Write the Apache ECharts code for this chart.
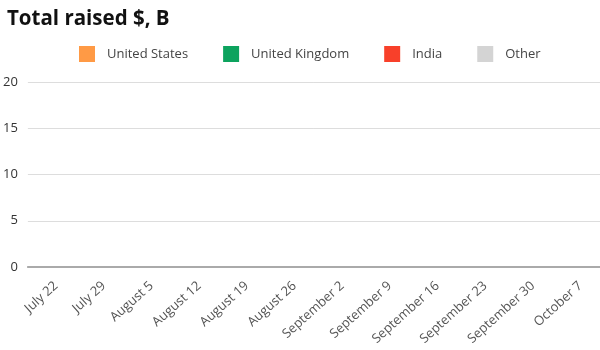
<!DOCTYPE html>
<html>
<head>
<meta charset="utf-8">
<script src="https://cdn.jsdelivr.net/npm/echarts@6/dist/echarts.min.js"></script>
<style>html,body{margin:0;padding:0;background:#fff}#c{width:600px;height:350px}</style>
</head>
<body>
<div id="c"></div>
<script>
const categories = ["July 22","July 29","August 5","August 12","August 19","August 26","September 2","September 9","September 16","September 23","September 30","October 7"];
const unitedStates = [0,0,0,0,0,0,0,0,0,0,0,0];
const unitedKingdom = [0,0,0,0,0,0,0,0,0,0,0,0];
const india = [0,0,0,0,0,0,0,0,0,0,0,0];
const other = [0,0,0,0,0,0,0,0,0,0,0,0];
const yTicks = [0,5,10,15,20];

const chart = echarts.init(document.getElementById('c'));
const font = '"Open Sans", sans-serif';
const mk = (name, data, color) => ({name, type:'bar', stack:'total', data, itemStyle:{color}, barWidth:'60%'});
chart.setOption({
  animation:false,
  title:{text:'Total raised $, B', left:2, top:4, textStyle:{fontFamily:font, fontSize:20.5, fontWeight:'bold', color:'#111'}},
  legend:{left:74, top:41, itemWidth:16, itemHeight:16, itemGap:35, icon:'rect',
    textStyle:{fontFamily:font, fontSize:13, color:'#444', padding:[0,0,0,7]}},
  grid:{left:27, right:0, top:82, bottom:83, containLabel:false},
  xAxis:{type:'category', data:categories,
    axisLine:{show:true, lineStyle:{color:'#aaa', width:2}}, axisTick:{show:false},
    axisLabel:{rotate:42, interval:0, fontFamily:font, fontSize:13, color:'#555', margin:21, padding:[0,-6,0,0]}},
  yAxis:{type:'value', min:yTicks[0], max:yTicks[yTicks.length-1], interval:5,
    axisLine:{show:false}, axisTick:{show:false},
    splitLine:{lineStyle:{color:'#ddd', width:1}},
    axisLabel:{fontFamily:font, fontSize:13, color:'#333', margin:10}},
  series:[
    mk('United States', unitedStates, '#FF9A45'),
    mk('United Kingdom', unitedKingdom, '#0DA35E'),
    mk('India', india, '#F8402A'),
    mk('Other', other, '#D4D4D4')
  ]
});
</script>
</body>
</html>
